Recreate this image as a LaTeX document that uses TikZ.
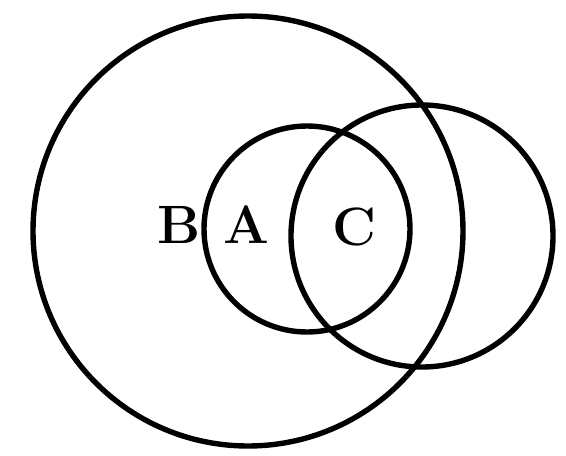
\documentclass[tikz,border=0pt]{standalone}
\usepackage{fontspec}
\usepackage{tikz}
\usetikzlibrary{positioning}

\begin{document}
\begin{tikzpicture}[x=1pt,y=-1pt,
  ring/.style={circle,draw,line width=5.4pt,inner sep=0pt},
  lab/.style={inner sep=0pt,font=\fontsize{54}{60}\selectfont\bfseries}]
  \useasboundingbox (0,0) rectangle (566,456);
  \node[ring,minimum size=430pt] (B) at (248,231) {};
  \node[ring,minimum size=206pt] (A) at (307,229) {};
  \node[ring,minimum size=262pt] (C) at (422,236) {};
  \node[lab] (labB) at (179,225) {B};
  \node[lab,right=22pt of labB] (labA) {A};
  \node[lab] (labC) at (354,227) {C};
\end{tikzpicture}
\end{document}
